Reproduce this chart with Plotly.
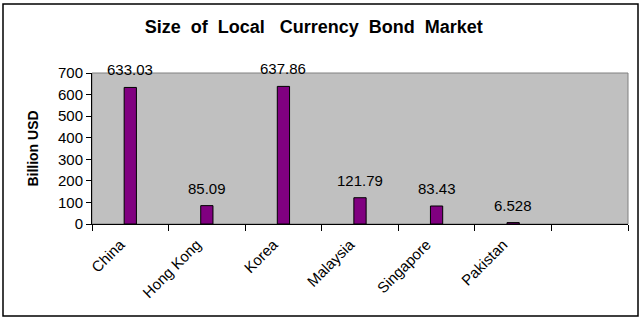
import plotly.graph_objects as go

categories = ["China", "Hong Kong", "Korea", "Malaysia", "Singapore", "Pakistan", " "]
values = [633.03, 85.09, 637.86, 121.79, 83.43, 6.528, None]
value_labels = ["633.03", "85.09", "637.86", "121.79", "83.43", "6.528", ""]
y_ticks = [0, 100, 200, 300, 400, 500, 600, 700]

fig = go.Figure()
fig.add_trace(go.Bar(
    x=categories, y=values,
    marker=dict(color="#800080", line=dict(color="black", width=1)),
    width=0.16, hoverinfo="skip",
))

for c, v, t in zip(categories, values, value_labels):
    if v is None:
        continue
    fig.add_annotation(x=c, y=v, text=t, showarrow=False, yanchor="bottom",
                       yshift=7, font=dict(size=15, color="black"))

fig.update_layout(
    width=643, height=321,
    margin=dict(l=92, r=15, t=73, b=97),
    paper_bgcolor="white", plot_bgcolor="#C0C0C0",
    showlegend=False,
    font=dict(family="Liberation Sans, Arial", size=13, color="black"),
    title=dict(text="<b>Size  of  Local   Currency  Bond  Market</b>",
               x=0.488, xanchor="center", y=0.916, yanchor="middle",
               font=dict(size=18, color="black")),
    xaxis=dict(type="category", categoryorder="array", categoryarray=categories,
               range=[-0.5, 6.5], tickson="boundaries", ticks="outside", ticklen=6,
               tickcolor="black", showline=True, linecolor="black", linewidth=1,
               tickangle=-45, showgrid=False, tickfont=dict(size=15),
               ticklabelstandoff=5, ticklabelshift=-10),
    yaxis=dict(range=[0, 700], tickvals=y_ticks, ticks="outside", ticklen=5,
               tickcolor="black", showline=True, linecolor="black", linewidth=1,
               showgrid=False, zeroline=False,
               title=dict(text="<b>Billion USD</b>", font=dict(size=14), standoff=16),
               tickfont=dict(size=15)),
    shapes=[
        dict(type="rect", xref="x domain", yref="y domain", x0=0, x1=1, y0=0, y1=1,
             line=dict(color="#808080", width=1), layer="below"),
        dict(type="rect", xref="paper", yref="paper",
             x0=(3 - 92) / 536, x1=(638 - 92) / 536,
             y0=(224 - 316) / 151, y1=(224 - 4) / 151,
             line=dict(color="black", width=1.5)),
    ],
)

fig.write_html("out.html")
